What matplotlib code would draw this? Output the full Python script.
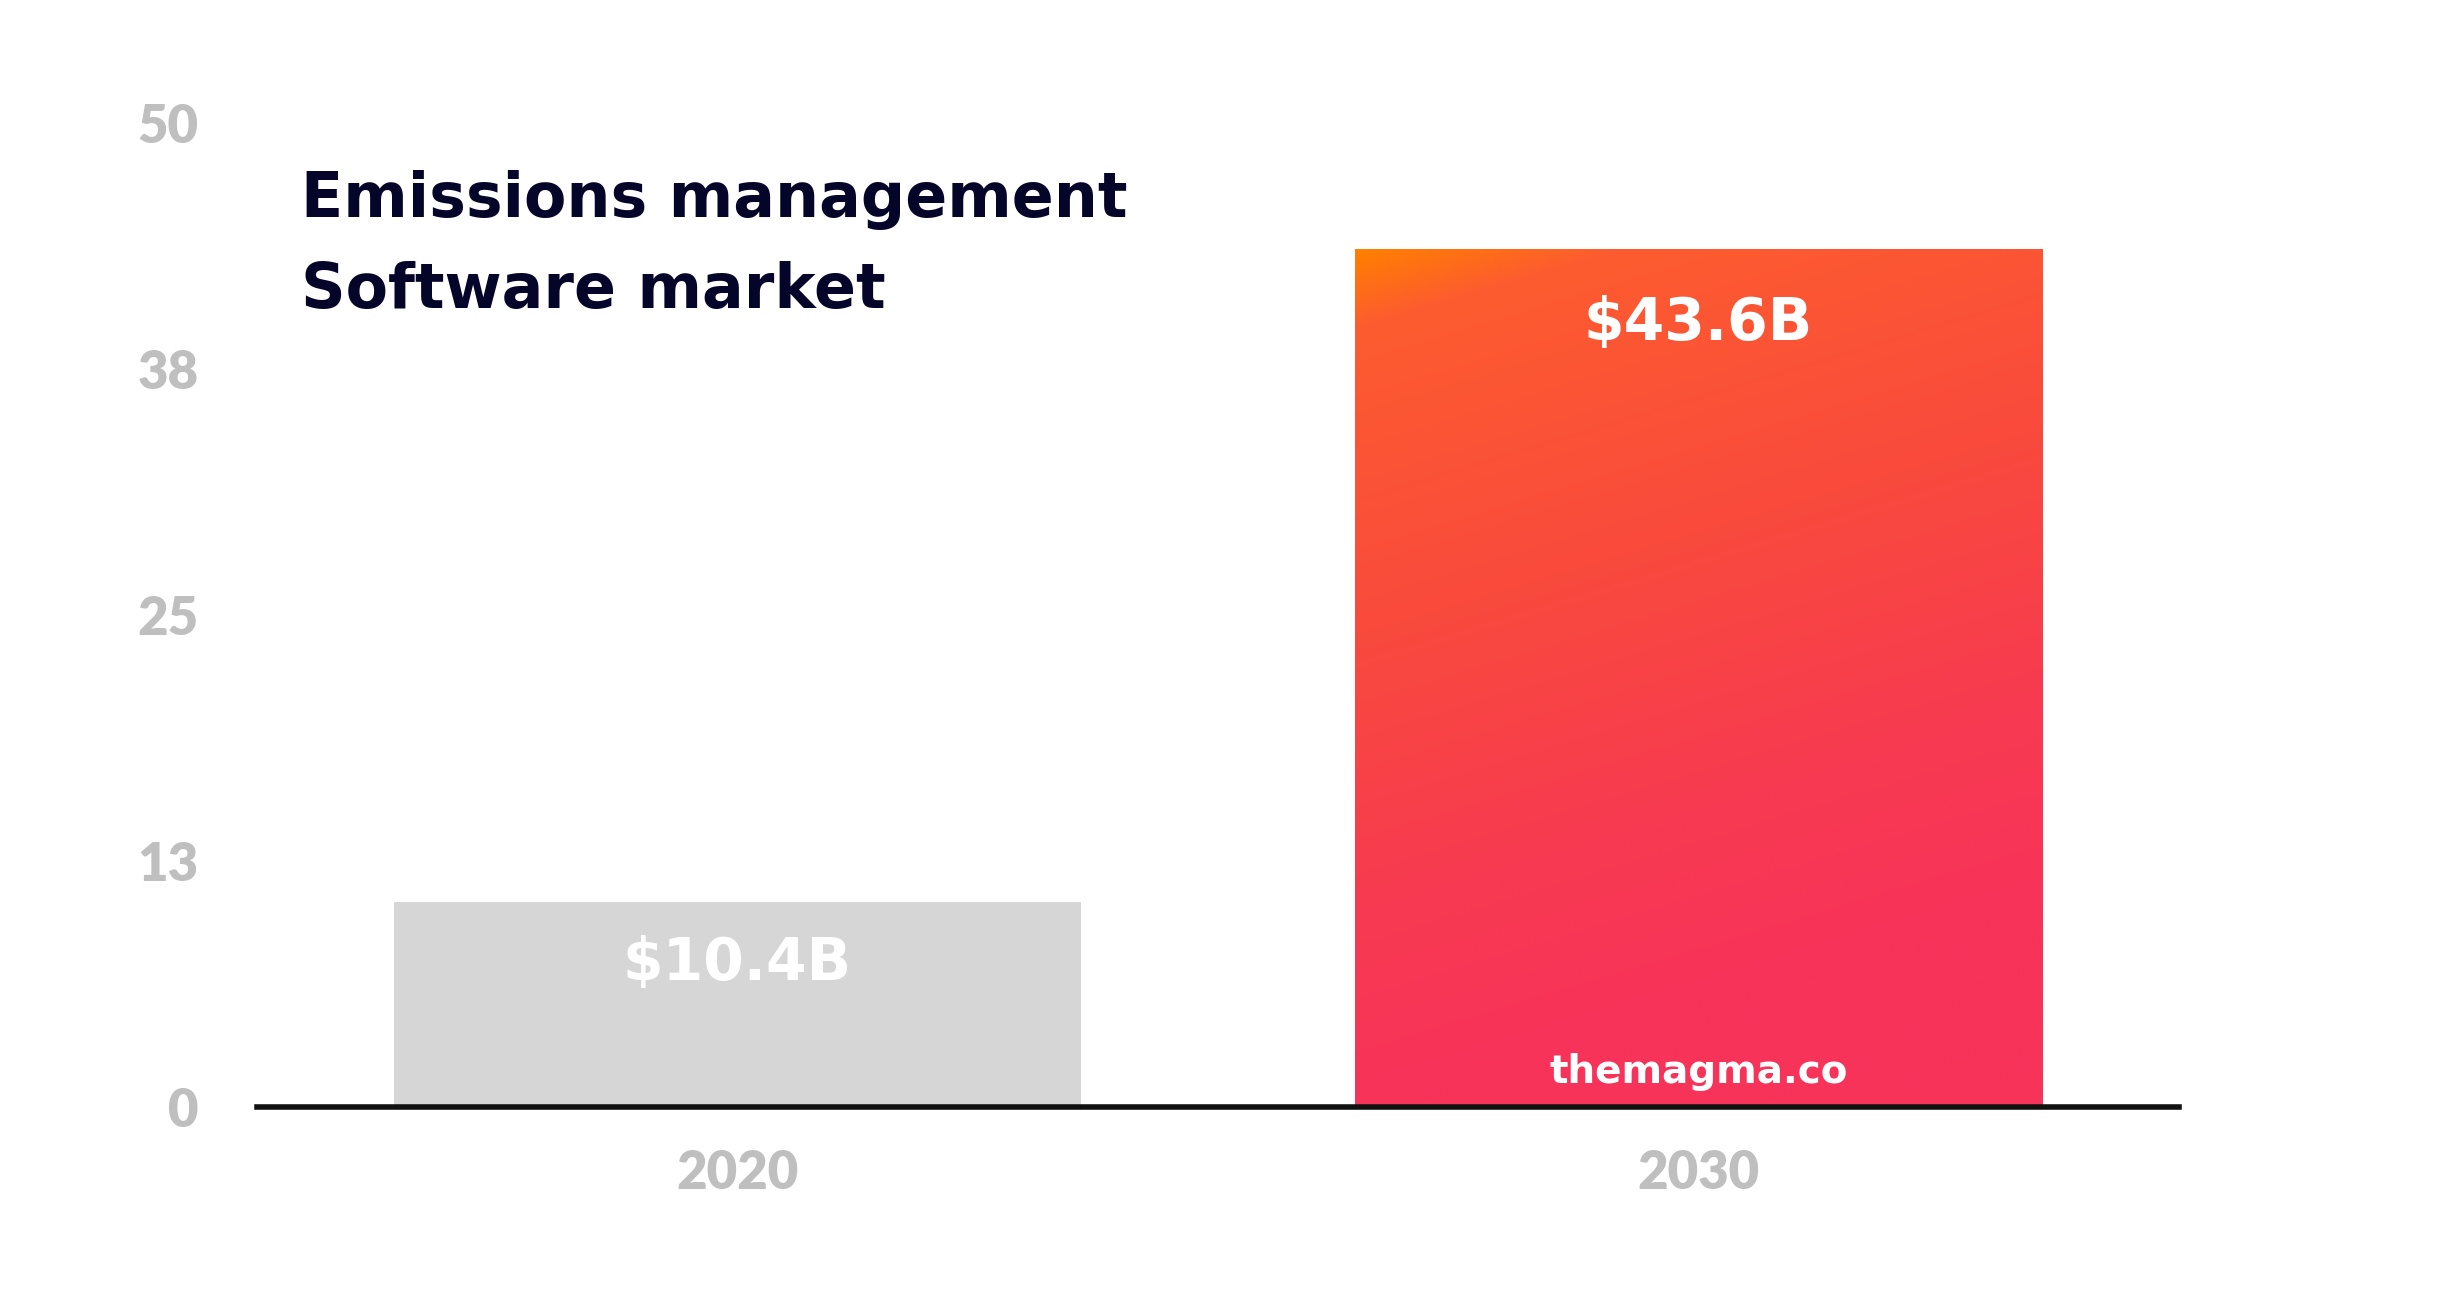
import numpy as np
import matplotlib
matplotlib.use("Agg")
import matplotlib.pyplot as plt
from matplotlib.colors import LinearSegmentedColormap

# ---- data ----
years = ["2020", "2030"]
values = [10.4, 43.6]
value_labels = ["$10.4B", "$43.6B"]
ytick_values = [0, 12.5, 25, 37.5, 50]
ytick_labels = ["0", "13", "25", "38", "50"]
title_lines = ["Emissions management", "Software market"]
watermark = "themagma.co"

DPI = 200
fig = plt.figure(figsize=(2464 / DPI, 1304 / DPI), dpi=DPI, facecolor="white")
ax = fig.add_axes([0.1043, 0.1511, 0.8843 - 0.1043, 0.906 - 0.1511])

x = np.arange(len(years))
bars = ax.bar(x, values, width=0.715, color=["#d6d6d6", "none"], zorder=2)

ax.set_xlim(-0.5, 1.5)
ax.set_ylim(0, 50)

# gradient fill for the 2030 bar
b = bars[1]
bx0, bw, bh = b.get_x(), b.get_width(), b.get_height()
ny, nx = 400, 300
xf = np.linspace(0, 1, nx)[None, :]
yf = np.linspace(0, 1, ny)[:, None]  # 0 = top
d = (xf * 690 * 0.3 + yf * 861) / 861
d = np.clip(d, 0, 1)
cmap = LinearSegmentedColormap.from_list(
    "magma_grad",
    [(0.0, "#ff8000"), (0.09, "#fd5c2f"), (0.45, "#f94a3d"), (0.75, "#f73b50"), (1.0, "#f7335a")],
)
im = ax.imshow(cmap(d), extent=(bx0, bx0 + bw, 0, bh), origin="upper",
               aspect="auto", zorder=2, interpolation="bilinear")
im.set_clip_path(b)

# spines
for s in ["top", "right", "left"]:
    ax.spines[s].set_visible(False)
ax.spines["bottom"].set_linewidth(2.0)
ax.spines["bottom"].set_color("#111111")
ax.spines["bottom"].set_zorder(3)

ax.set_yticks(ytick_values)
ax.set_yticklabels(ytick_labels)
ax.set_xticks(x)
ax.set_xticklabels(years)
ax.tick_params(axis="y", length=0, pad=21, labelsize=19, labelcolor="#bfbfbf")
ax.tick_params(axis="x", length=0, pad=15, labelsize=19, labelcolor="#bfbfbf")
for lab in ax.get_yticklabels() + ax.get_xticklabels():
    lab.set_fontfamily(["Lato", "DejaVu Sans"])
    lab.set_fontweight("heavy")

heavy = ["DejaVu Sans"]

# value labels
label_y = [7.3, 39.8]
for xi, ly, txt in zip(x, label_y, value_labels):
    ax.text(xi, ly, txt, ha="center", va="center", color="white",
            fontsize=21, fontweight="bold", family=heavy, zorder=4)
ax.text(x[1], 1.8, watermark, ha="center", va="center", color="white",
        fontsize=14, fontweight="bold", family=heavy, zorder=4)

# title
fig.text(0.122, 0.8336, title_lines[0], ha="left", va="baseline", color="#05052a",
         fontsize=22.3, fontweight="bold", family=heavy)
fig.text(0.122, 0.7638, title_lines[1], ha="left", va="baseline", color="#05052a",
         fontsize=22.3, fontweight="bold", family=heavy)

fig.savefig("out.png", dpi=DPI, facecolor="white")
